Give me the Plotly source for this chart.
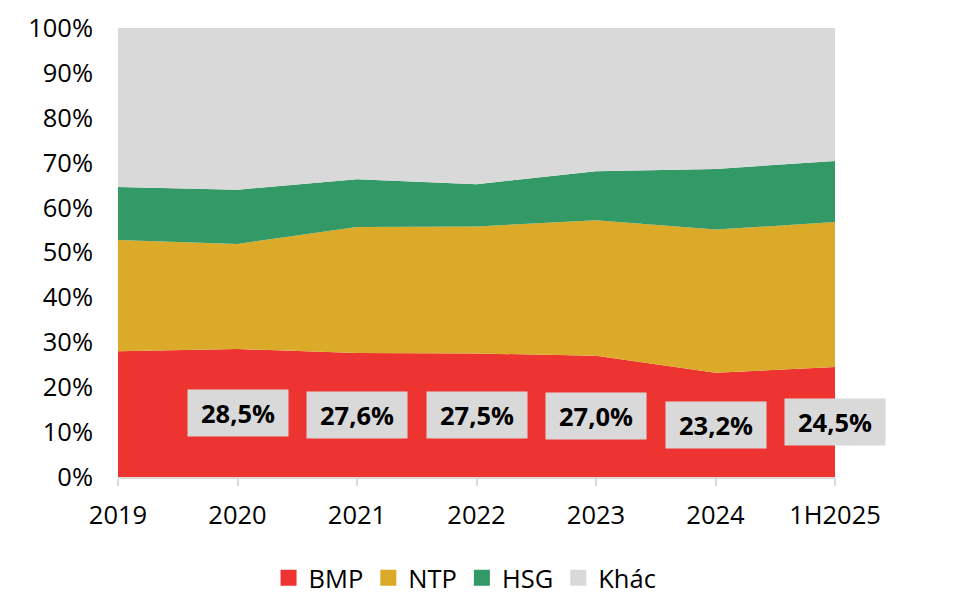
import plotly.graph_objects as go

years = ["2019", "2020", "2021", "2022", "2023", "2024", "1H2025"]
bmp = [28.0, 28.5, 27.6, 27.5, 27.0, 23.2, 24.5]
ntp = [24.8, 23.4, 28.1, 28.3, 30.2, 31.9, 32.3]
hsg = [11.8, 12.1, 10.6, 9.4, 10.9, 13.5, 13.6]
khac = [35.4, 36.0, 33.7, 35.1, 31.9, 31.4, 29.6]
label_years = ["2020", "2021", "2022", "2023", "2024", "1H2025"]
label_text = ["28,5%", "27,6%", "27,5%", "27,0%", "23,2%", "24,5%"]

series = [
    ("BMP", bmp, "#EE3430"),
    ("NTP", ntp, "#DAAA28"),
    ("HSG", hsg, "#339966"),
    ("Khác", khac, "#D9D9D9"),
]

FONT = "Open Sans"
FS = 25.5
fig = go.Figure()
for name, vals, col in series:
    fig.add_trace(go.Scatter(
        x=years, y=vals, name=name, mode="lines",
        stackgroup="one", line=dict(width=0, color=col),
        fillcolor=col, hoverinfo="skip", showlegend=False,
    ))
for name, vals, col in series:
    fig.add_trace(go.Scatter(
        x=[None], y=[None], name=name, mode="markers",
        marker=dict(symbol="square", size=16, color=col),
        showlegend=True, hoverinfo="skip",
    ))

for yr, txt in zip(label_years, label_text):
    i = years.index(yr)
    fig.add_annotation(
        x=i, y=bmp[i] / 2, xref="x", yref="y", text="<b>" + txt + "</b>",
        showarrow=False, bgcolor="#D9D9D9", width=96, height=42, borderpad=2,
        font=dict(family=FONT, size=FS, color="#000000"),
    )

fig.update_layout(
    width=953, height=596,
    margin=dict(l=118, r=118, t=28, b=119, autoexpand=False),
    paper_bgcolor="white", plot_bgcolor="white",
    font=dict(family=FONT, size=FS, color="#000000"),
    showlegend=True,
    legend=dict(orientation="h", x=0.488, xref="container", xanchor="center",
                y=0.03, yref="container", yanchor="middle",
                font=dict(size=FS), itemwidth=30, traceorder="normal"),
    xaxis=dict(type="category", range=[0, 6], showgrid=False, zeroline=False,
               showline=True, linecolor="#D9D9D9", linewidth=2,
               ticks="outside", tickcolor="#D9D9D9", ticklen=7, tickwidth=2,
               ticklabelstandoff=7, automargin=False),
    yaxis=dict(range=[0, 100], tickvals=list(range(0, 101, 10)),
               ticktext=[f"{v}%" for v in range(0, 101, 10)],
               showgrid=False, zeroline=False, showline=False,
               ticklabelstandoff=24, automargin=False),
)

fig.write_html("out.html")
